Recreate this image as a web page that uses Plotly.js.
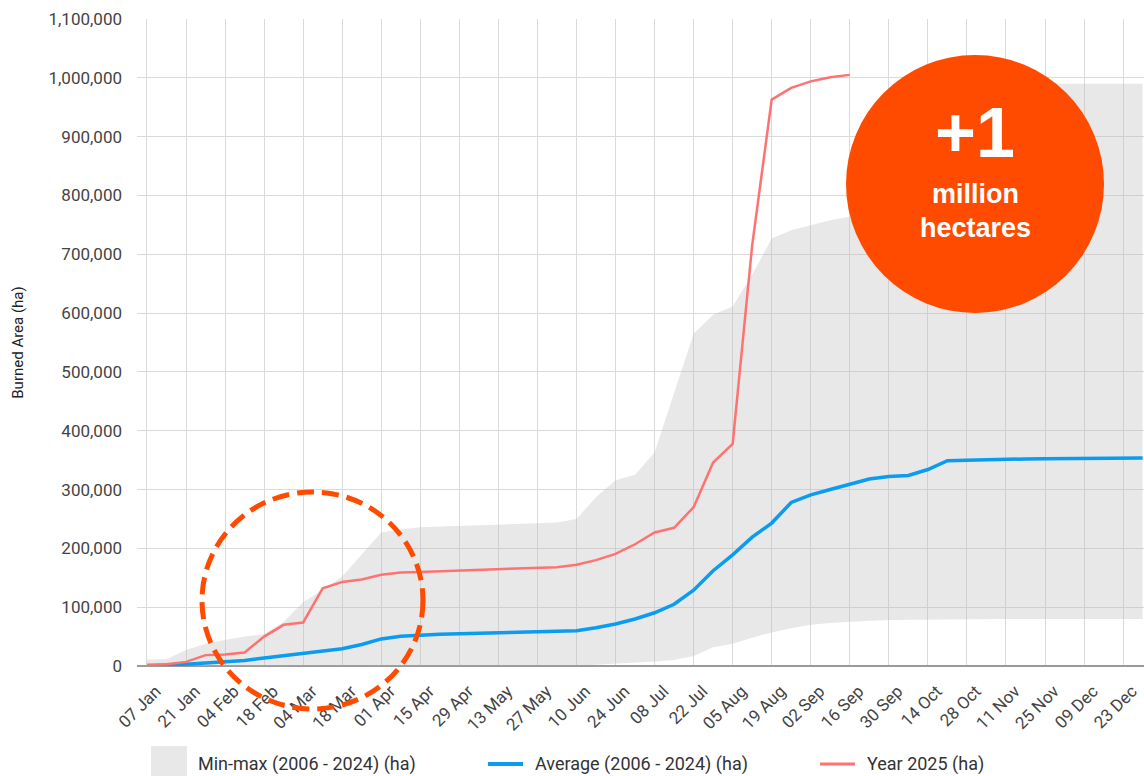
<!DOCTYPE html>
<html>
<head>
<meta charset="utf-8">
<script src="https://cdn.plot.ly/plotly-3.0.1.min.js"></script>
<style>
  html, body { margin: 0; padding: 0; background: #fff; }
  #chart { width: 1144px; height: 776px; }
</style>
</head>
<body>
<div id="chart"></div>
<script>
// Weekly dates (2025)
const weekDates = [
  '2025-01-07','2025-01-14','2025-01-21','2025-01-28','2025-02-04','2025-02-11','2025-02-18','2025-02-25',
  '2025-03-04','2025-03-11','2025-03-18','2025-03-25','2025-04-01','2025-04-08','2025-04-15','2025-04-22',
  '2025-04-29','2025-05-06','2025-05-13','2025-05-20','2025-05-27','2025-06-03','2025-06-10','2025-06-17',
  '2025-06-24','2025-07-01','2025-07-08','2025-07-15','2025-07-22','2025-07-29','2025-08-05','2025-08-12',
  '2025-08-19','2025-08-26','2025-09-02','2025-09-09','2025-09-16','2025-09-23','2025-09-30','2025-10-07',
  '2025-10-14','2025-10-21','2025-10-28','2025-11-04','2025-11-11','2025-11-18','2025-11-25','2025-12-02',
  '2025-12-09','2025-12-16','2025-12-23','2025-12-30'
];

// Min-max band (2006 - 2024), ha
const bandMin = [
  0,0,0,0,0,0,0,0, 0,0,0,0,0,0,0,0, 0,0,0,0,0,500,1000,2000,
  3500,5500,7500,10000,17000,32000,38000,48000, 57000,64000,70000,73000,75500,77000,78000,78500,
  79000,79500,80000,80000,80000,80000,80000,80000, 80000,80000,80000,80000
];
const bandMax = [
  11000,11500,27000,38000,44000,50000,54000,75000, 109000,129000,152000,189000,227000,232000,236000,237000,
  238000,239000,240000,241000,242000,244000,250000,287000, 316000,325000,363000,465000,565000,597000,611000,665000,
  727000,741000,750000,758000,764000,768000,772000,776000, 780000,985000,988000,989000,990000,990000,990000,990000,
  990000,990000,990000,990000
];

// Average (2006 - 2024), ha
const average = [
  0,1000,3000,5000,7000,9500,13500,17500, 22000,25500,29500,36500,46000,50500,52500,54000,
  55000,56000,56700,57500,58400,59200,60000,65000, 71500,80000,90500,105000,129000,162000,189000,219000,
  243000,278000,291000,300000,309500,318000,322000,324000, 334000,349000,350000,351000,351500,352000,352500,352500,
  352500,353000,353000,353500
];

// Year 2025, ha (up to 16 Sep)
const year2025 = [
  2000,3000,7000,18500,19500,23000,50000,70000, 74000,132000,143000,147000,155000,159000,160000,161000,
  163000,164000,164500,165500,166000,168000,172000,180000, 190500,207000,227000,235000,270000,346000,377500,715000,
  963000,983000,994000,1001000,1005000
];

// X tick labels
const tickDates = [
  '2025-01-07','2025-01-21','2025-02-04','2025-02-18','2025-03-04','2025-03-18','2025-04-01','2025-04-15',
  '2025-04-29','2025-05-13','2025-05-27','2025-06-10','2025-06-24','2025-07-08','2025-07-22','2025-08-05',
  '2025-08-19','2025-09-02','2025-09-16','2025-09-30','2025-10-14','2025-10-28','2025-11-11','2025-11-25',
  '2025-12-09','2025-12-23'
];
const tickLabels = [
  '07 Jan','21 Jan','04 Feb','18 Feb','04 Mar','18 Mar','01 Apr','15 Apr','29 Apr','13 May','27 May','10 Jun',
  '24 Jun','08 Jul','22 Jul','05 Aug','19 Aug','02 Sep','16 Sep','30 Sep','14 Oct','28 Oct','11 Nov','25 Nov',
  '09 Dec','23 Dec'
];
const yTickVals = [0,100000,200000,300000,400000,500000,600000,700000,800000,900000,1000000,1100000];

const legendNames = ['Min-max (2006 - 2024) (ha)', 'Average (2006 - 2024) (ha)', 'Year 2025 (ha)'];

const GRAY_FILL = 'rgba(185,185,185,0.33)';
const BLUE = '#0a9cf0';
const RED = '#ff7272';
const ORANGE = '#ff4b00';
const FONT = 'Roboto, "Liberation Sans", Arial, sans-serif';

const traces = [
  { x: weekDates, y: bandMin, type: 'scatter', mode: 'lines', line: {width: 0, color: 'rgba(0,0,0,0)'},
    hoverinfo: 'skip', showlegend: false, name: 'min' },
  { x: weekDates, y: bandMax, type: 'scatter', mode: 'lines', line: {width: 0, color: 'rgba(0,0,0,0)'},
    fill: 'tonexty', fillcolor: GRAY_FILL, showlegend: false, name: legendNames[0] },
  { x: weekDates, y: average, type: 'scatter', mode: 'lines', line: {width: 3.5, color: BLUE},
    showlegend: false, name: legendNames[1] },
  { x: weekDates.slice(0, year2025.length), y: year2025, type: 'scatter', mode: 'lines',
    line: {width: 2.5, color: RED}, showlegend: false, name: legendNames[2] }
];

// paper coordinate helpers (plot area: x 137..1144, y 19..666)
const PL = 137, PW = 1007, PT = 19, PH = 647;
const px = v => (v - PL) / PW;
const py = v => (PT + PH - v) / PH;

const shapes = [
  // big orange circle
  { type: 'circle', xref: 'paper', yref: 'paper', x0: px(846), x1: px(1104), y0: py(313), y1: py(55),
    fillcolor: ORANGE, line: {width: 0}, layer: 'above' },
  // dashed highlight circle
  { type: 'circle', xref: 'paper', yref: 'paper', x0: px(202), x1: px(423), y0: py(709), y1: py(492),
    fillcolor: 'rgba(0,0,0,0)', line: {width: 5, color: ORANGE, dash: '17px,8px'}, layer: 'above' },
  // legend symbols
  { type: 'rect', xref: 'paper', yref: 'paper', x0: px(151), x1: px(187), y0: py(790), y1: py(746),
    fillcolor: '#e8e8e8', line: {width: 0} },
  { type: 'line', xref: 'paper', yref: 'paper', x0: px(488), x1: px(523), y0: py(764), y1: py(764),
    line: {width: 4, color: BLUE} },
  { type: 'line', xref: 'paper', yref: 'paper', x0: px(820), x1: px(855), y0: py(764), y1: py(764),
    line: {width: 3, color: RED} }
];

const annotations = [
  { xref: 'paper', yref: 'paper', x: px(975), y: py(133), text: '<b>+1</b>', showarrow: false,
    font: {family: '"Liberation Sans", Arial, sans-serif', size: 70, color: '#ffffff'}, xanchor: 'center', yanchor: 'middle' },
  { xref: 'paper', yref: 'paper', x: px(975), y: py(194), text: '<b>million</b>', showarrow: false,
    font: {family: '"Liberation Sans", Arial, sans-serif', size: 27, color: '#ffffff'}, xanchor: 'center', yanchor: 'middle' },
  { xref: 'paper', yref: 'paper', x: px(975), y: py(228), text: '<b>hectares</b>', showarrow: false,
    font: {family: '"Liberation Sans", Arial, sans-serif', size: 27, color: '#ffffff'}, xanchor: 'center', yanchor: 'middle' },
  { xref: 'paper', yref: 'paper', x: px(196), y: py(764), text: legendNames[0], showarrow: false,
    font: {family: FONT, size: 18, color: '#333'}, xanchor: 'left', yanchor: 'middle' },
  { xref: 'paper', yref: 'paper', x: px(533), y: py(764), text: legendNames[1], showarrow: false,
    font: {family: FONT, size: 18, color: '#333'}, xanchor: 'left', yanchor: 'middle' },
  { xref: 'paper', yref: 'paper', x: px(865), y: py(764), text: legendNames[2], showarrow: false,
    font: {family: FONT, size: 18, color: '#333'}, xanchor: 'left', yanchor: 'middle' }
];

const layout = {
  width: 1144, height: 776,
  margin: {l: PL, r: 0, t: PT, b: 776 - PT - PH, pad: 0},
  paper_bgcolor: '#ffffff', plot_bgcolor: '#ffffff',
  showlegend: false,
  font: {family: FONT, color: '#444'},
  xaxis: {
    type: 'date',
    range: ['2025-01-03 10:00', '2025-12-30 12:00'],
    tickmode: 'array', tickvals: tickDates, ticktext: tickLabels,
    tickangle: -45, ticks: '', showgrid: true, gridcolor: '#dadada', gridwidth: 1,
    zeroline: false, showline: false,
    tickfont: {family: FONT, size: 17, color: '#444'},
    ticklabelshift: 9, ticklabelstandoff: 11, ticklabeloverflow: 'allow',
    fixedrange: true
  },
  yaxis: {
    range: [0, 1100000],
    tickmode: 'array', tickvals: yTickVals,
    tickformat: ',d', ticks: '', showgrid: true, gridcolor: '#dadada', gridwidth: 1,
    zeroline: true, zerolinecolor: '#9a9a9a', zerolinewidth: 1.5, showline: false,
    tickfont: {family: FONT, size: 17, color: '#444'},
    ticklabelstandoff: 14,
    title: {text: 'Burned Area (ha)', font: {family: FONT, size: 15, color: '#222'}, standoff: 21},
    fixedrange: true
  },
  shapes: shapes,
  annotations: annotations
};

Plotly.newPlot('chart', traces, layout, {displayModeBar: false, staticPlot: true});
</script>
</body>
</html>
